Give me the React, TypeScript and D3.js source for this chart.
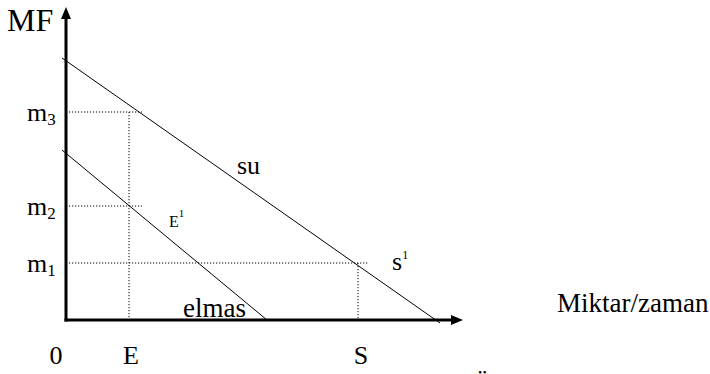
import React from "react";
import * as d3 from "d3";

// Data (abstract units)
const suLine: [number, number][] = [[-1, 65.5], [93.5, -0.75]];
const elmasLine: [number, number][] = [[-1, 42.5], [50.25, 0]];
const mLevels = [
  { name: "m", sub: "3", value: 52, xEnd: 19 },
  { name: "m", sub: "2", value: 28.5, xEnd: 19 },
  { name: "m", sub: "1", value: 14.25, xEnd: 75.5 },
];
const qLevels = [
  { name: "E", value: 15.75, yTop: 52 },
  { name: "S", value: 73, yTop: 14.25 },
];
const xTickLabels = [{ name: "0", value: -3 }];
const axisMax = { x: 99.25, y: 78.25 };

const W = 710;
const H = 374;
const x = d3.scaleLinear().domain([0, 100]).range([66, 466]);
const y = d3.scaleLinear().domain([0, 80]).range([320, 0]);
const line = d3.line<[number, number]>().x((d) => x(d[0])).y((d) => y(d[1]));
const FONT = "'Liberation Serif', 'Times New Roman', serif";

export default function App() {
  const x0 = x(0);
  const y0 = y(0);
  const ax = x(axisMax.x);
  const ay = y(axisMax.y);
  return (
    <svg width={W} height={H} style={{ position: "absolute", left: 0, top: 0, background: "#fff" }} fontFamily={FONT}>
      <rect width={W} height={H} fill="#fff" />
      {/* dotted guides */}
      {mLevels.map((m) => (
        <line key={"h" + m.sub} x1={x0} x2={x(m.xEnd)} y1={y(m.value)} y2={y(m.value)} stroke="#000" strokeWidth={1} strokeDasharray="1.2,1.8" />
      ))}
      {qLevels.map((q) => (
        <line key={"v" + q.name} x1={x(q.value)} x2={x(q.value)} y1={y(q.yTop)} y2={y0} stroke="#000" strokeWidth={1} strokeDasharray="1.2,1.8" />
      ))}
      {/* lines */}
      <path d={line(suLine) || ""} stroke="#000" strokeWidth={1} fill="none" />
      <path d={line(elmasLine) || ""} stroke="#000" strokeWidth={1} fill="none" />
      {/* axes */}
      <line x1={x0} x2={x0} y1={y0 + 1.5} y2={ay + 10} stroke="#000" strokeWidth={3} />
      <path d={`M${x0},${ay} L${x0 - 5},${ay + 12} L${x0 + 5},${ay + 12} Z`} fill="#000" />
      <line x1={x0 - 1.5} x2={ax - 10} y1={y0} y2={y0} stroke="#000" strokeWidth={3} />
      <path d={`M${ax},${y0} L${ax - 12},${y0 - 5} L${ax - 12},${y0 + 5} Z`} fill="#000" />
      {/* labels */}
      <text x={7} y={31} fontSize={32}>MF</text>
      {mLevels.map((m) => (
        <text key={"t" + m.sub} x={27} y={y(m.value) + 9} fontSize={26}>
          {m.name}
          <tspan fontSize={17} dy={4}>{m.sub}</tspan>
        </text>
      ))}
      {qLevels.map((q) => (
        <text key={"q" + q.name} x={x(q.value) + (q.name === "S" ? 3 : 2)} y={364} fontSize={26} textAnchor="middle">{q.name}</text>
      ))}
      {xTickLabels.map((t) => (
        <text key={"x" + t.name} x={x(t.value) + 2} y={364} fontSize={26} textAnchor="middle">{t.name}</text>
      ))}
      <text x={237} y={174} fontSize={26}>su</text>
      <text x={169} y={227} fontSize={16}>E<tspan fontSize={11} dy={-10}>1</tspan></text>
      <text x={392} y={270} fontSize={26}>s<tspan fontSize={12} dy={-11}>1</tspan></text>
      <text x={183} y={317} fontSize={27}>elmas</text>
      <text x={557} y={312} fontSize={27}>Miktar/zaman</text>
      <text x={473} y={392} fontSize={26}>Ü</text>
    </svg>
  );
}
